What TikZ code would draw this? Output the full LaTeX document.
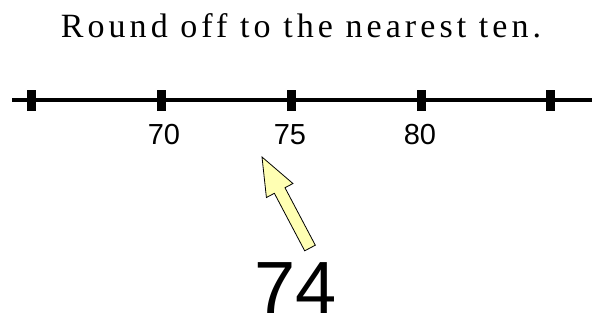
\documentclass[tikz,border=0pt]{standalone}
\usepackage{fontspec}
\setmainfont{Liberation Serif}
\newfontfamily\digitfont{Liberation Sans}
\newfontfamily\titlefont[LetterSpace=12]{Liberation Serif}
\usetikzlibrary{calc}
\definecolor{arrowyellow}{HTML}{FFFFB3}
\tikzset{
  axis/.style={line width=4pt},
  tickmark/.style={fill=black, minimum width=9pt, minimum height=21pt, inner sep=0pt},
  ticklabel/.style={font=\digitfont\fontsize{29}{31}\selectfont, inner sep=0pt},
  pointer/.style={fill=arrowyellow, draw=black, line width=0.8pt, line join=miter},
}
\begin{document}
\begin{tikzpicture}[x=1pt,y=-1pt]
\useasboundingbox (0,0) rectangle (592,322);
\node[font=\titlefont\fontsize{34}{36}\selectfont, inner sep=0pt, anchor=base] (title) at (301,37) {Round off to the nearest ten.};
\coordinate (lineL) at (12,100);
\coordinate (lineR) at (592,100);
\draw[axis] (lineL) -- (lineR);
\node[tickmark] (t1) at (31,100) {};
\node[tickmark] (t2) at (161,100) {};
\node[tickmark] (t3) at (291,100) {};
\node[tickmark] (t4) at (421,100) {};
\node[tickmark] (t5) at (550,100) {};
\node[ticklabel] (l70) at (164,135) {70};
\node[ticklabel] (l75) at (290,135) {75};
\node[ticklabel] (l80) at (420,135) {80};
\node[font=\digitfont\fontsize{74}{78}\selectfont, inner sep=0pt, anchor=base] (num) at (296,313) {74};
\coordinate (tail) at (310,248);
\coordinate (tip) at (262,157);
\coordinate (base) at ($(tail)!65pt!(tip)$);
\draw[pointer]
  ($(tail)!6pt!90:(tip)$) -- ($(base)!6pt!90:(tip)$) -- ($(base)!15pt!90:(tip)$)
  -- (tip)
  -- ($(base)!15pt!-90:(tip)$) -- ($(base)!6pt!-90:(tip)$) -- ($(tail)!6pt!-90:(tip)$) -- cycle;
\end{tikzpicture}
\end{document}
